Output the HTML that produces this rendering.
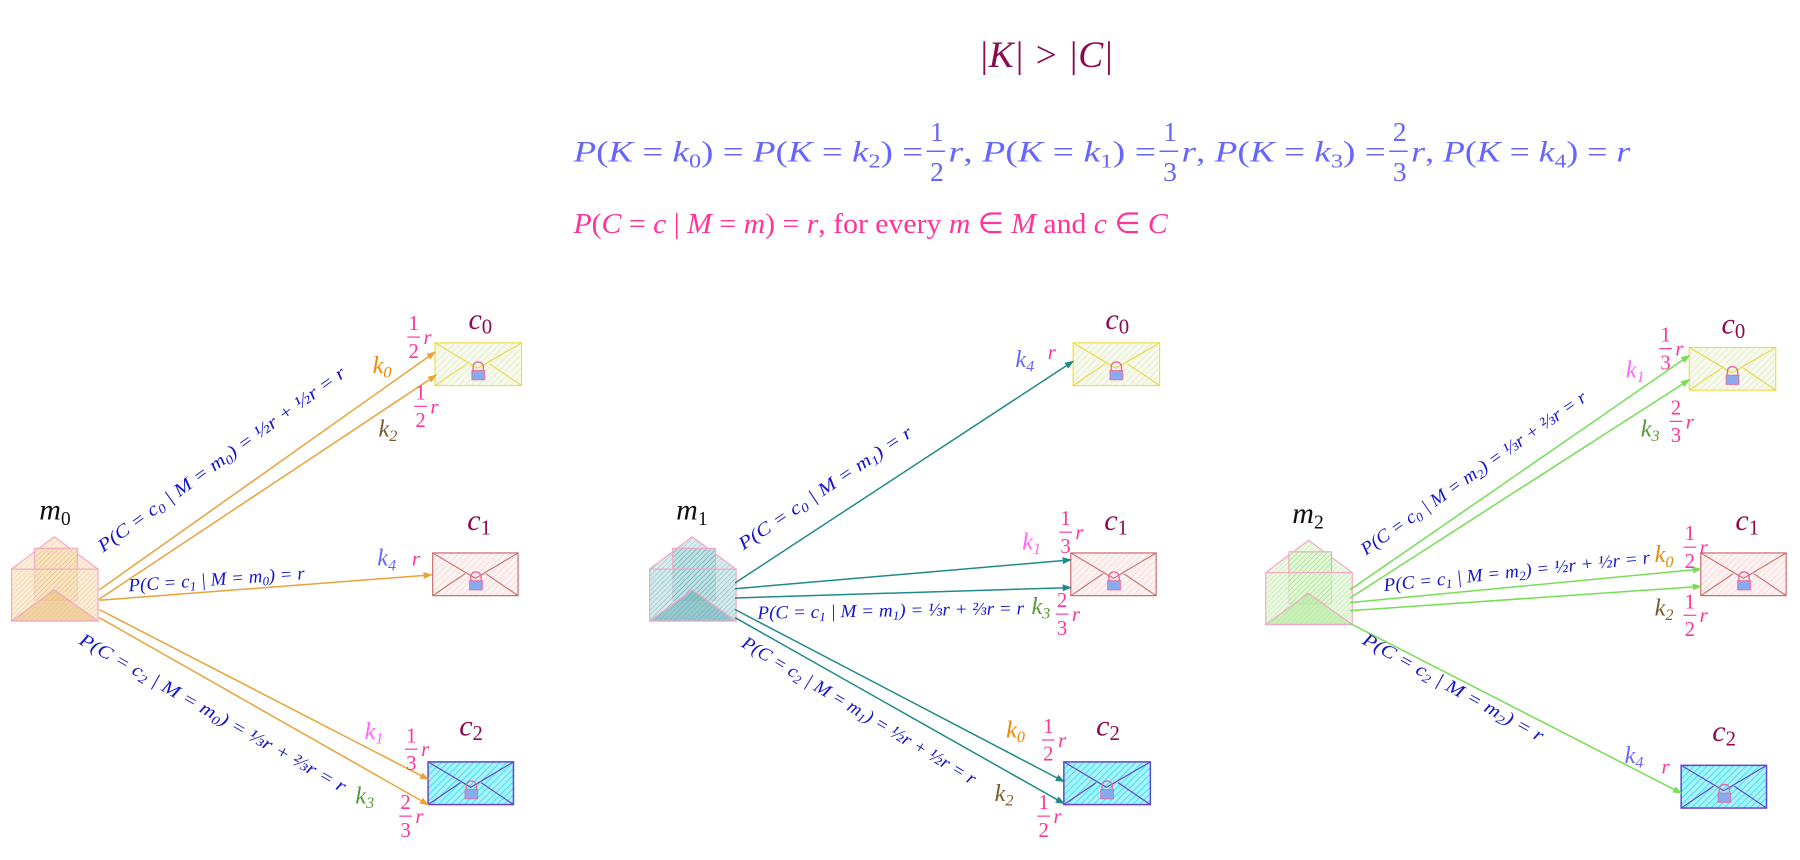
<!DOCTYPE html>
<html><head><meta charset="utf-8"><style>
html,body{margin:0;padding:0;background:#fff;width:1800px;height:860px;overflow:hidden}
svg{display:block}
text{font-family:"Liberation Serif",serif}
.i{font-style:italic}
.lb{fill:#1515cc;font-size:16px;font-style:italic}
.fr text{fill:#ff3399;font-size:18px}
.fr line{stroke:#ff3399;stroke-width:1}
.c{fill:#8b0a50;font-size:26px;font-style:italic}
.m{fill:#111;font-size:26px;font-style:italic}
.k{font-size:21px;font-style:italic}
</style></head><body>
<svg width="1800" height="860" viewBox="0 0 1560 745" preserveAspectRatio="none" xmlns="http://www.w3.org/2000/svg">
<defs>
<pattern id="hy" width="4" height="4" patternUnits="userSpaceOnUse" patternTransform="rotate(45)"><rect width="4" height="4" fill="#f6f9ec"/><line x1="0" y1="0" x2="0" y2="4" stroke="#dde8c0" stroke-width="1"/></pattern>
<pattern id="hr" width="4" height="4" patternUnits="userSpaceOnUse" patternTransform="rotate(45)"><rect width="4" height="4" fill="#fdf3f3"/><line x1="0" y1="0" x2="0" y2="4" stroke="#f3cccc" stroke-width="1"/></pattern>
<pattern id="hc" width="4" height="4" patternUnits="userSpaceOnUse" patternTransform="rotate(45)"><rect width="4" height="4" fill="#a8f4fc"/><line x1="0" y1="0" x2="0" y2="4" stroke="#33ddee" stroke-width="1.5"/></pattern>
<pattern id="ho" width="3" height="3" patternUnits="userSpaceOnUse" patternTransform="rotate(45)"><rect width="3" height="3" fill="#f8e4c4"/><line x1="0" y1="0" x2="0" y2="3" stroke="#e8b060" stroke-width="0.8"/></pattern>
<pattern id="ht" width="3" height="3" patternUnits="userSpaceOnUse" patternTransform="rotate(45)"><rect width="3" height="3" fill="#c0e0e4"/><line x1="0" y1="0" x2="0" y2="3" stroke="#3a9aa4" stroke-width="0.8"/></pattern>
<pattern id="hg" width="3" height="3" patternUnits="userSpaceOnUse" patternTransform="rotate(45)"><rect width="3" height="3" fill="#e0f6d4"/><line x1="0" y1="0" x2="0" y2="3" stroke="#90dd70" stroke-width="0.8"/></pattern>
<g id="lock"><path d="M33,24 v-3 a4,4 0 0 1 9,0 v3" fill="none" stroke="#e86aa0" stroke-width="1.2"/><rect x="32" y="24" width="11" height="8" fill="#88aaee" stroke="#e86aa0" stroke-width="0.8"/></g>
<g id="ey"><rect x="0" y="0" width="75" height="37" fill="url(#hy)" stroke="#f0dd44"/><path d="M0,0 L37,22 L75,0 M0,37 L28,18 M75,37 L47,18" fill="none" stroke="#e8d838" stroke-width="0.9"/><use href="#lock"/></g>
<marker id="ao" markerWidth="8" markerHeight="6" refX="7" refY="3" orient="auto" markerUnits="userSpaceOnUse"><path d="M0,0 L8,3 L0,6Z" fill="#e8a33a"/></marker>
<marker id="at" markerWidth="8" markerHeight="6" refX="7" refY="3" orient="auto" markerUnits="userSpaceOnUse"><path d="M0,0 L8,3 L0,6Z" fill="#1f8a8a"/></marker>
<marker id="ag" markerWidth="8" markerHeight="6" refX="7" refY="3" orient="auto" markerUnits="userSpaceOnUse"><path d="M0,0 L8,3 L0,6Z" fill="#77dd55"/></marker>
</defs>

<!-- header -->
<text x="848" y="58" class="i" font-size="32" fill="#8b0a50" textLength="117" lengthAdjust="spacingAndGlyphs">|K| &gt; |C|</text>
<g fill="#6666ff" font-size="26">
<text x="497" y="140" textLength="303" lengthAdjust="spacingAndGlyphs"><tspan class="i">P</tspan>(<tspan class="i">K</tspan> = <tspan class="i">k</tspan><tspan font-size="17" dy="5">0</tspan><tspan dy="-5">) = </tspan><tspan class="i">P</tspan>(<tspan class="i">K</tspan> = <tspan class="i">k</tspan><tspan font-size="17" dy="5">2</tspan><tspan dy="-5">) =</tspan></text>
<text x="806" y="122" font-size="24">1</text><line x1="803" y1="131" x2="819" y2="131" stroke="#6666ff" stroke-width="1.3"/><text x="806" y="157" font-size="24">2</text>
<text x="822" y="140" textLength="180" lengthAdjust="spacingAndGlyphs"><tspan class="i">r</tspan>, <tspan class="i">P</tspan>(<tspan class="i">K</tspan> = <tspan class="i">k</tspan><tspan font-size="17" dy="5">1</tspan><tspan dy="-5">) =</tspan></text>
<text x="1008" y="122" font-size="24">1</text><line x1="1005" y1="131" x2="1021" y2="131" stroke="#6666ff" stroke-width="1.3"/><text x="1008" y="157" font-size="24">3</text>
<text x="1024" y="140" textLength="177" lengthAdjust="spacingAndGlyphs"><tspan class="i">r</tspan>, <tspan class="i">P</tspan>(<tspan class="i">K</tspan> = <tspan class="i">k</tspan><tspan font-size="17" dy="5">3</tspan><tspan dy="-5">) =</tspan></text>
<text x="1207" y="122" font-size="24">2</text><line x1="1204" y1="131" x2="1220" y2="131" stroke="#6666ff" stroke-width="1.3"/><text x="1207" y="157" font-size="24">3</text>
<text x="1223" y="140" textLength="190" lengthAdjust="spacingAndGlyphs"><tspan class="i">r</tspan>, <tspan class="i">P</tspan>(<tspan class="i">K</tspan> = <tspan class="i">k</tspan><tspan font-size="17" dy="5">4</tspan><tspan dy="-5">) = </tspan><tspan class="i">r</tspan></text>
</g>
<text x="497" y="202" fill="#ff3399" font-size="25" textLength="515" lengthAdjust="spacingAndGlyphs"><tspan class="i">P</tspan>(<tspan class="i">C</tspan> = <tspan class="i">c</tspan> | <tspan class="i">M</tspan> = <tspan class="i">m</tspan>) = <tspan class="i">r</tspan>, for every <tspan class="i">m</tspan> ∈ <tspan class="i">M</tspan> and <tspan class="i">c</tspan> ∈ <tspan class="i">C</tspan></text>

<!-- closed envelopes -->
<use href="#ey" x="377" y="297"/><use href="#ey" x="930" y="297"/><use href="#ey" x="1464" y="301"/>
<g transform="translate(375,479)"><rect width="74" height="37" fill="url(#hr)" stroke="#c86868"/><path d="M0,0 L37,22 L74,0 M0,37 L28,18 M74,37 L46,18" fill="none" stroke="#c86868" stroke-width="0.9"/><use href="#lock"/></g>
<g transform="translate(928,479)"><rect width="74" height="37" fill="url(#hr)" stroke="#c86868"/><path d="M0,0 L37,22 L74,0 M0,37 L28,18 M74,37 L46,18" fill="none" stroke="#c86868" stroke-width="0.9"/><use href="#lock"/></g>
<g transform="translate(1474,479)"><rect width="74" height="37" fill="url(#hr)" stroke="#c86868"/><path d="M0,0 L37,22 L74,0 M0,37 L28,18 M74,37 L46,18" fill="none" stroke="#c86868" stroke-width="0.9"/><use href="#lock"/></g>
<g transform="translate(371,660)"><rect width="74" height="37" fill="url(#hc)" stroke="#6644cc" stroke-width="1.3"/><path d="M0,0 L37,22 L74,0 M0,37 L28,18 M74,37 L46,18" fill="none" stroke="#6644cc" stroke-width="1"/><use href="#lock"/></g>
<g transform="translate(922,660)"><rect width="75" height="37" fill="url(#hc)" stroke="#6644cc" stroke-width="1.3"/><path d="M0,0 L37,22 L75,0 M0,37 L28,18 M75,37 L47,18" fill="none" stroke="#6644cc" stroke-width="1"/><use href="#lock"/></g>
<g transform="translate(1457,663)"><rect width="74" height="37" fill="url(#hc)" stroke="#6644cc" stroke-width="1.3"/><path d="M0,0 L37,22 L74,0 M0,37 L28,18 M74,37 L46,18" fill="none" stroke="#6644cc" stroke-width="1"/><use href="#lock"/></g>

<!-- open envelopes -->
<g transform="translate(10,465)"><path d="M0,28 L37,0 L75,28" fill="url(#ho)" fill-opacity="0.6" stroke="#f4a6c6"/><rect x="20" y="10" width="37" height="45" fill="url(#ho)" stroke="#f4a6c6"/><rect x="0" y="28" width="75" height="45" fill="url(#ho)" fill-opacity="0.7" stroke="#f4a6c6"/><path d="M0,73 L37,46 L75,73Z" fill="#e8b870" fill-opacity="0.5" stroke="#f4a6c6"/></g>
<g transform="translate(563,465)"><path d="M0,28 L37,0 L75,28" fill="url(#ht)" fill-opacity="0.6" stroke="#f4a6c6"/><rect x="20" y="10" width="37" height="45" fill="url(#ht)" stroke="#f4a6c6"/><rect x="0" y="28" width="75" height="45" fill="url(#ht)" fill-opacity="0.7" stroke="#f4a6c6"/><path d="M0,73 L37,46 L75,73Z" fill="#5aa8b0" fill-opacity="0.5" stroke="#f4a6c6"/></g>
<g transform="translate(1097,468)"><path d="M0,28 L37,0 L75,28" fill="url(#hg)" fill-opacity="0.6" stroke="#f4a6c6"/><rect x="20" y="10" width="37" height="45" fill="url(#hg)" stroke="#f4a6c6"/><rect x="0" y="28" width="75" height="45" fill="url(#hg)" fill-opacity="0.7" stroke="#f4a6c6"/><path d="M0,73 L37,46 L75,73Z" fill="#a8e890" fill-opacity="0.5" stroke="#f4a6c6"/></g>

<!-- arrows -->
<g stroke="#e8a33a" stroke-width="1.3" marker-end="url(#ao)">
<line x1="86" y1="511" x2="377" y2="305"/><line x1="86" y1="519" x2="378" y2="325"/><line x1="86" y1="520" x2="374" y2="498"/><line x1="86" y1="528" x2="371" y2="675"/><line x1="86" y1="535" x2="371" y2="697"/>
</g>
<g stroke="#1f8a8a" stroke-width="1.3" marker-end="url(#at)">
<line x1="637" y1="505" x2="930" y2="313"/><line x1="637" y1="510" x2="928" y2="485"/><line x1="637" y1="518" x2="928" y2="509"/><line x1="637" y1="528" x2="922" y2="677"/><line x1="637" y1="535" x2="922" y2="696"/>
</g>
<g stroke="#77dd55" stroke-width="1.3" marker-end="url(#ag)">
<line x1="1170" y1="511" x2="1464" y2="308"/><line x1="1170" y1="518" x2="1464" y2="329"/><line x1="1170" y1="522" x2="1474" y2="493"/><line x1="1170" y1="529" x2="1474" y2="508"/><line x1="1170" y1="540" x2="1457" y2="687"/>
</g>

<!-- node labels -->
<text class="m" x="34" y="450">m<tspan font-size="17" dy="5" font-style="normal">0</tspan></text>
<text class="m" x="586" y="450">m<tspan font-size="17" dy="5" font-style="normal">1</tspan></text>
<text class="m" x="1120" y="453">m<tspan font-size="17" dy="5" font-style="normal">2</tspan></text>
<text class="c" x="406" y="285">c<tspan font-size="18" dy="4" font-style="normal">0</tspan></text>
<text class="c" x="405" y="459">c<tspan font-size="18" dy="4" font-style="normal">1</tspan></text>
<text class="c" x="398" y="637">c<tspan font-size="18" dy="4" font-style="normal">2</tspan></text>
<text class="c" x="958" y="285">c<tspan font-size="18" dy="4" font-style="normal">0</tspan></text>
<text class="c" x="957" y="459">c<tspan font-size="18" dy="4" font-style="normal">1</tspan></text>
<text class="c" x="950" y="637">c<tspan font-size="18" dy="4" font-style="normal">2</tspan></text>
<text class="c" x="1492" y="289">c<tspan font-size="18" dy="4" font-style="normal">0</tspan></text>
<text class="c" x="1504" y="459">c<tspan font-size="18" dy="4" font-style="normal">1</tspan></text>
<text class="c" x="1484" y="642">c<tspan font-size="18" dy="4" font-style="normal">2</tspan></text>

<!-- edge labels: panel 1 -->
<text class="lb" transform="translate(195,402) rotate(-36)" text-anchor="middle" textLength="261" lengthAdjust="spacingAndGlyphs">P(C = c<tspan font-size="11" dy="3">0</tspan><tspan dy="-3"> | M = m</tspan><tspan font-size="11" dy="3">0</tspan><tspan dy="-3">) = ½r + ½r = r</tspan></text>
<text class="lb" transform="translate(188,507) rotate(-4)" text-anchor="middle" textLength="153" lengthAdjust="spacingAndGlyphs">P(C = c<tspan font-size="11" dy="3">1</tspan><tspan dy="-3"> | M = m</tspan><tspan font-size="11" dy="3">0</tspan><tspan dy="-3">) = r</tspan></text>
<text class="lb" transform="translate(182,622) rotate(29.5)" text-anchor="middle" textLength="263" lengthAdjust="spacingAndGlyphs">P(C = c<tspan font-size="11" dy="3">2</tspan><tspan dy="-3"> | M = m</tspan><tspan font-size="11" dy="3">0</tspan><tspan dy="-3">) = ⅓r + ⅔r = r</tspan></text>
<text class="k" x="323" y="323" fill="#ee8800">k<tspan font-size="14" dy="4">0</tspan></text>
<text class="k" x="328" y="378" fill="#7a5a2a">k<tspan font-size="14" dy="4">2</tspan></text>
<text class="k" x="327" y="490" fill="#6666ff">k<tspan font-size="14" dy="4">4</tspan></text>
<text class="k" x="316" y="640" fill="#ff66ff">k<tspan font-size="14" dy="4">1</tspan></text>
<text class="k" x="308" y="696" fill="#559933">k<tspan font-size="14" dy="4">3</tspan></text>
<text x="357" y="490" fill="#ff3399" font-size="18" class="i">r</text>
<g class="fr" transform="translate(354,290)"><text y="-4">1</text><line x1="-1" y1="2" x2="10" y2="2"/><text y="20">2</text><text x="13" y="8" class="i">r</text></g>
<g class="fr" transform="translate(360,350)"><text y="-4">1</text><line x1="-1" y1="2" x2="10" y2="2"/><text y="20">2</text><text x="13" y="8" class="i">r</text></g>
<g class="fr" transform="translate(352,647)"><text y="-4">1</text><line x1="-1" y1="2" x2="10" y2="2"/><text y="20">3</text><text x="13" y="8" class="i">r</text></g>
<g class="fr" transform="translate(347,705)"><text y="-4">2</text><line x1="-1" y1="2" x2="10" y2="2"/><text y="20">3</text><text x="13" y="8" class="i">r</text></g>

<!-- panel 2 -->
<text class="lb" transform="translate(718,427) rotate(-34)" text-anchor="middle" textLength="178" lengthAdjust="spacingAndGlyphs">P(C = c<tspan font-size="11" dy="3">0</tspan><tspan dy="-3"> | M = m</tspan><tspan font-size="11" dy="3">1</tspan><tspan dy="-3">) = r</tspan></text>
<text class="lb" transform="translate(772,534) rotate(-1)" text-anchor="middle" textLength="231" lengthAdjust="spacingAndGlyphs">P(C = c<tspan font-size="11" dy="3">1</tspan><tspan dy="-3"> | M = m</tspan><tspan font-size="11" dy="3">1</tspan><tspan dy="-3">) = ⅓r + ⅔r = r</tspan></text>
<text class="lb" transform="translate(742,620) rotate(31)" text-anchor="middle" textLength="234" lengthAdjust="spacingAndGlyphs">P(C = c<tspan font-size="11" dy="3">2</tspan><tspan dy="-3"> | M = m</tspan><tspan font-size="11" dy="3">1</tspan><tspan dy="-3">) = ½r + ½r = r</tspan></text>
<text class="k" x="880" y="318" fill="#6666ff">k<tspan font-size="14" dy="4">4</tspan></text>
<text x="908" y="311" fill="#ff3399" font-size="18" class="i">r</text>
<text class="k" x="886" y="476" fill="#ff66ff">k<tspan font-size="14" dy="4">1</tspan></text>
<text class="k" x="894" y="532" fill="#559933">k<tspan font-size="14" dy="4">3</tspan></text>
<text class="k" x="872" y="639" fill="#ee8800">k<tspan font-size="14" dy="4">0</tspan></text>
<text class="k" x="862" y="694" fill="#7a5a2a">k<tspan font-size="14" dy="4">2</tspan></text>
<g class="fr" transform="translate(919,459)"><text y="-4">1</text><line x1="-1" y1="2" x2="10" y2="2"/><text y="20">3</text><text x="13" y="8" class="i">r</text></g>
<g class="fr" transform="translate(916,530)"><text y="-4">2</text><line x1="-1" y1="2" x2="10" y2="2"/><text y="20">3</text><text x="13" y="8" class="i">r</text></g>
<g class="fr" transform="translate(904,639)"><text y="-4">1</text><line x1="-1" y1="2" x2="10" y2="2"/><text y="20">2</text><text x="13" y="8" class="i">r</text></g>
<g class="fr" transform="translate(900,705)"><text y="-4">1</text><line x1="-1" y1="2" x2="10" y2="2"/><text y="20">2</text><text x="13" y="8" class="i">r</text></g>

<!-- panel 3 -->
<text class="lb" transform="translate(1280,414) rotate(-35)" text-anchor="middle" textLength="235" lengthAdjust="spacingAndGlyphs">P(C = c<tspan font-size="11" dy="3">0</tspan><tspan dy="-3"> | M = m</tspan><tspan font-size="11" dy="3">2</tspan><tspan dy="-3">) = ⅓r + ⅔r = r</tspan></text>
<text class="lb" transform="translate(1315,500) rotate(-6)" text-anchor="middle" textLength="232" lengthAdjust="spacingAndGlyphs">P(C = c<tspan font-size="11" dy="3">1</tspan><tspan dy="-3"> | M = m</tspan><tspan font-size="11" dy="3">2</tspan><tspan dy="-3">) = ½r + ½r = r</tspan></text>
<text class="lb" transform="translate(1257,600) rotate(29)" text-anchor="middle" textLength="177" lengthAdjust="spacingAndGlyphs">P(C = c<tspan font-size="11" dy="3">2</tspan><tspan dy="-3"> | M = m</tspan><tspan font-size="11" dy="3">2</tspan><tspan dy="-3">) = r</tspan></text>
<text class="k" x="1409" y="327" fill="#ff66ff">k<tspan font-size="14" dy="4">1</tspan></text>
<text class="k" x="1422" y="378" fill="#559933">k<tspan font-size="14" dy="4">3</tspan></text>
<text class="k" x="1434" y="487" fill="#ee8800">k<tspan font-size="14" dy="4">0</tspan></text>
<text class="k" x="1434" y="533" fill="#7a5a2a">k<tspan font-size="14" dy="4">2</tspan></text>
<text class="k" x="1408" y="661" fill="#6666ff">k<tspan font-size="14" dy="4">4</tspan></text>
<text x="1440" y="670" fill="#ff3399" font-size="18" class="i">r</text>
<g class="fr" transform="translate(1439,300)"><text y="-4">1</text><line x1="-1" y1="2" x2="10" y2="2"/><text y="20">3</text><text x="13" y="8" class="i">r</text></g>
<g class="fr" transform="translate(1448,363)"><text y="-4">2</text><line x1="-1" y1="2" x2="10" y2="2"/><text y="20">3</text><text x="13" y="8" class="i">r</text></g>
<g class="fr" transform="translate(1460,472)"><text y="-4">1</text><line x1="-1" y1="2" x2="10" y2="2"/><text y="20">2</text><text x="13" y="8" class="i">r</text></g>
<g class="fr" transform="translate(1460,531)"><text y="-4">1</text><line x1="-1" y1="2" x2="10" y2="2"/><text y="20">2</text><text x="13" y="8" class="i">r</text></g>
</svg>
</body></html>
